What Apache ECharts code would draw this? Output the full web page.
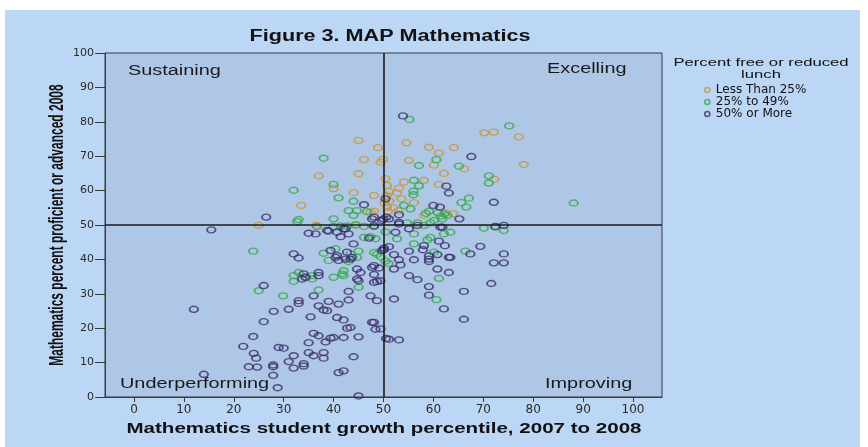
<!DOCTYPE html>
<html>
<head>
<meta charset="utf-8">
<script src="https://cdn.jsdelivr.net/npm/echarts@6/dist/echarts.min.js"></script>
<style>
  html, body { margin: 0; padding: 0; background: #ffffff; }
  #bg { position: absolute; left: 5px; top: 10px; width: 855px; height: 437px; background: #bcd6f6; }
  #chart { position: absolute; left: 0; top: 0; width: 868px; height: 447px; }
</style>
</head>
<body>
<div id="bg"></div>
<div id="chart"></div>
<script>
// ---- Data ----
const seriesNames = ['Less Than 25%', '25% to 49%', '50% or More'];
const xTicks = [0, 10, 20, 30, 40, 50, 60, 70, 80, 90, 100];
const yTicks = [0, 10, 20, 30, 40, 50, 60, 70, 80, 90, 100];

const lessThan25 = [
  [45.0,74.6],[48.9,72.5],[46.1,69.0],[49.9,69.1],[49.4,68.3],[37.0,64.3],[45.0,64.9],[50.4,63.5],
  [40.0,60.6],[44.0,59.4],[48.1,58.6],[33.5,55.7],[50.2,56.5],[48.1,54.0],[47.4,53.7],[50.7,61.5],
  [50.7,55.2],[50.9,53.9],[70.2,76.8],[72.1,77.0],[77.1,75.6],[54.6,73.9],[59.1,72.6],[61.1,70.9],
  [64.1,72.5],[55.1,68.8],[60.1,67.4],[66.2,66.3],[78.1,67.6],[62.1,65.0],[72.2,63.3],[54.1,62.5],
  [58.1,63.0],[61.1,61.8],[53.1,60.7],[52.7,59.3],[51.1,59.8],[56.1,56.5],[64.0,53.3],[53.6,57.6],
  [62.4,53.6],[58.1,52.8],[25.0,49.9],[36.5,49.9],[44.5,50.0],[51.2,57.0],[52.0,55.0],[50.6,58.5],
  [53.0,54.2]
];

const from25to49 = [
  [38.0,69.4],[32.0,60.1],[40.0,61.8],[41.0,57.9],[44.0,56.9],[43.0,54.2],[44.7,54.2],[46.7,53.9],
  [44.0,52.8],[33.0,51.6],[40.0,51.8],[55.2,80.7],[75.2,78.8],[60.6,69.0],[57.1,67.3],[65.1,67.1],
  [71.1,64.3],[71.1,62.2],[56.1,63.0],[57.1,61.4],[56.0,59.8],[56.0,58.8],[67.1,57.8],[65.6,56.5],
  [66.6,55.2],[88.1,56.4],[54.1,55.7],[55.4,54.7],[59.1,54.0],[58.5,53.4],[60.9,53.6],[62.2,53.2],
  [61.5,52.6],[32.7,51.0],[36.7,49.6],[40.0,49.6],[44.4,50.0],[46.1,49.6],[48.1,49.5],[54.7,50.6],
  [56.8,50.6],[59.4,50.6],[70.1,49.1],[72.4,49.4],[74.1,48.4],[60.1,51.3],[61.8,51.8],[62.8,52.8],
  [56.1,47.4],[58.1,49.9],[62.1,47.4],[63.4,47.9],[50.4,48.0],[59.4,46.4],[58.8,45.7],[56.1,44.5],
  [66.4,42.4],[60.1,42.1],[50.4,39.5],[51.0,38.8],[61.1,34.5],[60.6,28.3],[41.4,49.7],[42.7,49.7],
  [46.1,46.4],[47.4,46.6],[48.4,46.0],[23.9,42.4],[38.0,41.8],[39.0,39.7],[40.4,43.1],[43.0,39.4],
  [43.4,41.6],[45.0,42.4],[44.7,40.6],[48.1,42.0],[48.7,41.5],[49.4,40.8],[42.0,36.7],[42.0,35.3],
  [40.0,34.8],[32.0,35.3],[33.0,36.2],[32.0,33.6],[35.7,34.3],[35.7,35.3],[25.0,30.9],[29.9,29.4],
  [37.0,31.1],[34.4,34.8],[41.7,35.8],[45.0,31.9],[52.7,46.0]
];

const over50 = [
  [46.1,55.9],[50.4,57.6],[26.5,52.3],[48.1,52.3],[50.6,52.3],[53.9,81.7],[67.6,69.9],[62.6,61.3],
  [63.1,59.3],[72.1,56.6],[60.0,55.7],[61.3,55.2],[65.2,51.8],[53.1,53.0],[47.7,51.8],[49.7,51.3],
  [51.1,51.8],[53.1,50.8],[61.8,49.4],[74.1,49.9],[53.1,50.3],[72.4,49.6],[55.1,48.9],[56.8,49.9],
  [61.4,49.4],[52.4,47.9],[61.1,45.3],[62.3,44.0],[58.1,44.0],[57.9,42.8],[51.1,43.7],[50.1,42.8],
  [69.4,43.8],[67.4,41.6],[74.1,41.6],[55.1,42.4],[60.8,41.4],[52.1,41.4],[53.1,39.9],[56.1,39.9],
  [59.1,40.1],[59.1,39.4],[59.1,41.0],[63.1,40.6],[63.4,40.6],[72.1,39.0],[74.1,39.0],[53.4,38.4],
  [52.1,37.2],[60.8,37.2],[55.1,35.3],[56.8,34.1],[63.1,36.2],[71.6,33.0],[59.1,32.1],[66.1,30.7],
  [59.1,29.6],[52.1,28.5],[62.1,25.6],[66.1,22.6],[51.1,16.8],[53.1,16.6],[49.4,19.8],
  [48.1,49.8],[50.0,51.8],[15.5,48.6],[35.0,47.6],[39.0,48.2],[42.0,48.9],[43.0,47.4],[41.4,46.6],
  [44.0,44.5],[39.4,42.6],[40.7,41.1],[41.0,39.7],[42.7,42.1],[43.7,40.6],[32.0,41.6],[33.0,40.4],
  [50.1,43.3],[44.7,37.2],[45.4,36.2],[48.1,38.2],[49.1,37.5],[48.1,35.6],[44.7,34.3],[45.0,33.8],
  [34.0,35.8],[33.7,34.3],[37.0,36.2],[37.0,35.3],[48.1,33.3],[48.7,33.6],[26.0,32.4],[36.0,29.4],
  [43.0,30.7],[12.0,25.5],[33.0,28.0],[33.0,27.2],[31.0,25.5],[28.0,24.9],[39.0,27.8],[41.0,27.0],
  [43.0,28.2],[37.0,26.5],[38.0,25.3],[26.0,21.9],[35.4,23.3],[40.7,23.1],[42.0,22.4],[48.1,21.7],
  [48.4,19.7],[42.7,20.0],[23.9,17.6],[36.0,18.5],[37.0,17.8],[39.4,17.1],[40.0,17.3],[42.0,17.3],
  [38.4,16.0],[45.0,17.5],[35.0,15.8],[21.9,14.7],[24.0,12.7],[24.5,11.3],[29.0,14.4],[30.0,14.2],
  [32.0,12.0],[31.0,10.3],[35.0,12.9],[36.0,12.0],[38.0,12.9],[38.0,11.3],[34.0,9.7],[34.0,9.0],
  [32.0,8.4],[27.9,9.3],[27.9,8.8],[23.0,8.8],[24.7,8.7],[44.0,11.7],[41.0,7.1],[42.0,7.6],
  [27.9,6.3],[14.0,6.6],[28.8,2.7],[45.0,0.3],[48.7,28.0],[50.5,17.0],[36.4,47.4],[38.7,48.4],
  [40.7,47.9],[42.4,48.9],[47.1,46.2],[49.7,42.6],[47.4,29.4],[40.4,40.6],[42.4,40.1],[43.4,40.1],
  [47.7,37.7],[49.4,33.8],[34.4,34.8],[43.4,20.2],[38.7,25.1],[47.7,21.7]
];

// ---- Styling ----
const colors = ['#c9963a', '#36aa48', '#3b2f6c'];
const plotBg = '#afc7e7';
const groups = [lessThan25, from25to49, over50];

const chart = echarts.init(document.getElementById('chart'), null, { renderer: 'canvas' });

const scatterSeries = groups.map((data, i) => ({
  name: seriesNames[i],
  type: 'scatter',
  data: data,
  symbol: 'circle',
  symbolSize: [8.5, 6],
  itemStyle: { color: 'rgba(0,0,0,0)', borderColor: colors[i], borderWidth: 1.6 },
  emphasis: { disabled: true },
  z: 3
}));

const option = {
  animation: false,
  grid: {
    left: 105, right: 206, top: 53, bottom: 50,
    show: true, backgroundColor: plotBg, borderColor: '#3a3a3a', borderWidth: 1
  },
  xAxis: {
    type: 'value', min: -5.8, max: 105.8,
    splitLine: { show: false },
    axisLine: { show: true, onZero: false, lineStyle: { color: '#3a3a3a', width: 1 } },
    axisTick: { show: true, customValues: xTicks, length: 5, lineStyle: { color: '#3a3a3a' } },
    axisLabel: { customValues: xTicks, margin: 7, fontFamily: 'DejaVu Sans', fontSize: 12, color: '#2a2a2a' }
  },
  yAxis: {
    type: 'value', min: 0, max: 100, interval: 10,
    splitLine: { show: false },
    axisLine: { show: true, onZero: false, lineStyle: { color: '#3a3a3a', width: 1 } },
    axisTick: { show: true, length: 10, lineStyle: { color: '#3a3a3a' } },
    axisLabel: { margin: 11, fontFamily: 'DejaVu Sans', fontSize: 11, color: '#2a2a2a' }
  },
  legend: {
    orient: 'vertical', left: 704, top: 84, padding: 0,
    itemWidth: 7, itemHeight: 5, itemGap: 0,
    icon: 'circle',
    data: seriesNames.map((n, i) => ({
      name: n,
      itemStyle: { color: 'rgba(0,0,0,0)', borderColor: colors[i], borderWidth: 1.6 }
    })),
    textStyle: { fontFamily: 'DejaVu Sans', fontSize: 12, lineHeight: 11, color: '#111', padding: [0, 0, 0, 0] }
  },
  graphic: [
    { type: 'text', x: 390, y: 37, scaleX: 1.35, silent: true,
      style: { text: 'Figure 3. MAP Mathematics', fontFamily: 'Liberation Sans', fontWeight: 'bold', fontSize: 16,
               fill: '#111', align: 'center', verticalAlign: 'middle' } },
    { type: 'text', x: 128, y: 71, scaleX: 1.42, silent: true,
      style: { text: 'Sustaining', fontFamily: 'Liberation Sans', fontSize: 14, fill: '#1a1a1a', align: 'left', verticalAlign: 'middle' } },
    { type: 'text', x: 547, y: 69, scaleX: 1.42, silent: true,
      style: { text: 'Excelling', fontFamily: 'Liberation Sans', fontSize: 14, fill: '#1a1a1a', align: 'left', verticalAlign: 'middle' } },
    { type: 'text', x: 120, y: 384, scaleX: 1.42, silent: true,
      style: { text: 'Underperforming', fontFamily: 'Liberation Sans', fontSize: 14, fill: '#1a1a1a', align: 'left', verticalAlign: 'middle' } },
    { type: 'text', x: 545, y: 384, scaleX: 1.42, silent: true,
      style: { text: 'Improving', fontFamily: 'Liberation Sans', fontSize: 14, fill: '#1a1a1a', align: 'left', verticalAlign: 'middle' } },
    { type: 'text', x: 384, y: 429, scaleX: 1.37, silent: true,
      style: { text: 'Mathematics student growth percentile, 2007 to 2008', fontFamily: 'Liberation Sans', fontWeight: 'bold',
               fontSize: 15, fill: '#111', align: 'center', verticalAlign: 'middle' } },
    { type: 'text', x: 57, y: 225, rotation: Math.PI / 2, scaleX: 0.8, scaleY: 1.35, silent: true,
      style: { text: 'Mathematics percent proficient or advanced 2008', fontFamily: 'Liberation Sans', fontWeight: 'bold',
               fontSize: 15, fill: '#111', align: 'center', verticalAlign: 'middle' } },
    { type: 'text', x: 761, y: 68.5, scaleX: 1.45, silent: true,
      style: { text: 'Percent free or reduced\nlunch', fontFamily: 'Liberation Sans', fontSize: 11.5, lineHeight: 12,
               fill: '#111', align: 'center', verticalAlign: 'middle' } }
  ],
  series: [
    {
      name: 'quadrants', type: 'scatter', data: [], silent: true, z: 2,
      markLine: {
        silent: true, symbol: ['none', 'none'], animation: false,
        label: { show: false },
        lineStyle: { color: '#1b1b1b', width: 1.6, type: 'solid' },
        emphasis: { disabled: true },
        data: [{ xAxis: 50 }, { yAxis: 50 }]
      }
    }
  ].concat(scatterSeries)
};

chart.setOption(option);
</script>
</body>
</html>
